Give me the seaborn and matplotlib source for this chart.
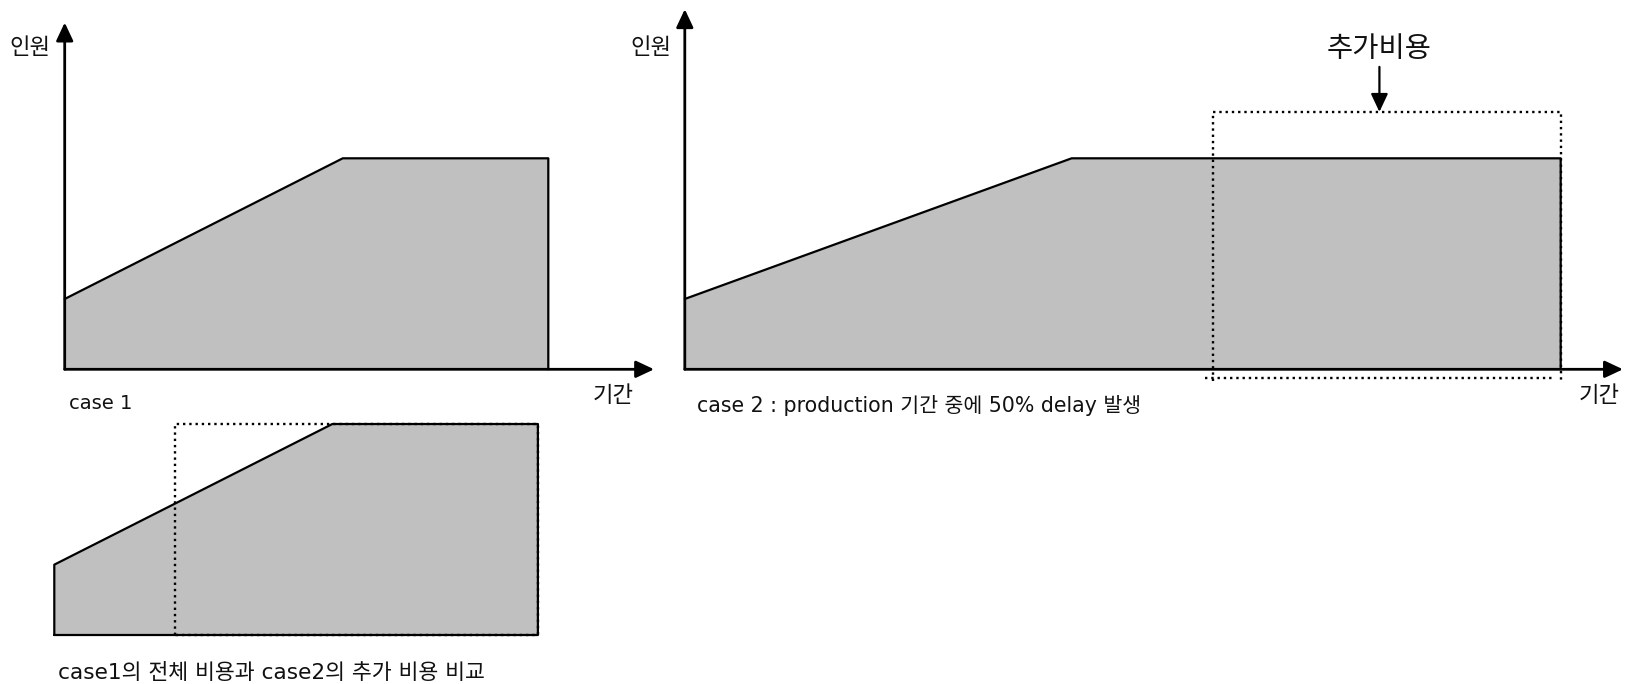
import matplotlib
matplotlib.use("Agg")
import matplotlib.pyplot as plt
import seaborn as sns

sns.set_theme(style="white")
plt.rcParams["font.family"] = ["DejaVu Sans", "Noto Sans CJK KR"]

# Staffing profiles: time (months) vs. headcount
case1_time = [0, 13.8, 24]
case1_staff = [1, 3, 3]
case2_time = [0, 15.9, 36]
case2_staff = [1, 3, 3]
extra_cost_span = [21.7, 36]      # added-cost period in case 2
compare_span = [6, 24]            # case 2 extra cost laid over case 1

y_label = "인원"
x_label = "기간"
case1_title = "case 1"
case2_title = "case 2 : production 기간 중에 50% delay 발생"
compare_title = "case1의 전체 비용과 case2의 추가 비용 비교"
extra_label = "추가비용"

FILL = "#c0c0c0"
W, H = 1631, 684
fig = plt.figure(figsize=(W / 100, H / 100), dpi=100)


def add_axes_px(x0, y0, x1, y1):
    ax = fig.add_axes([x0 / W, 1 - y1 / H, (x1 - x0) / W, (y1 - y0) / H])
    ax.set_axis_off()
    return ax


ARROW = dict(arrowstyle="-|>,head_length=1.0,head_width=0.47",
             mutation_scale=11, color="black", lw=2, shrinkA=0, shrinkB=0)


def draw_axes_arrows(ax, xtip, ytip):
    ax.annotate("", xy=(xtip, 0), xytext=(0, 0), arrowprops=ARROW,
                annotation_clip=False)
    ax.annotate("", xy=(0, ytip), xytext=(0, 0), arrowprops=ARROW,
                annotation_clip=False)


def draw_profile(ax, t, s, closed=False):
    ax.fill_between(t, s, 0, color=FILL, lw=0)
    if closed:
        xs = [t[0]] + list(t) + [t[-1], t[0]]
        ys = [0] + list(s) + [0, 0]
    else:
        xs = list(t) + [t[-1]]
        ys = list(s) + [0]
    sns.lineplot(x=xs, y=ys, sort=False, estimator=None, color="black",
                 lw=1.6, ax=ax, legend=False)


def dotted(ax, xs, ys):
    sns.lineplot(x=xs, y=ys, sort=False, estimator=None, color="black",
                 lw=1.7, linestyle=":", ax=ax, legend=False)


label_kw = dict(fontsize=16, color="#111111")

# ---- case 1 ----
ax1 = add_axes_px(0, 0, 660, 420)
ax1.set_xlim(-64.7 / 20.15, (660 - 64.7) / 20.15)
ax1.set_ylim((369.3 - 420) / 70.33, 369.3 / 70.33)
draw_profile(ax1, case1_time, case1_staff)
draw_axes_arrows(ax1, 29.25, 4.93)
ax1.text(-0.7, 4.58, y_label, ha="right", va="center", **label_kw)
ax1.text(27.2, -0.37, x_label, ha="center", va="center", **label_kw)
ax1.text(0.2, -0.49, case1_title, ha="left", va="center", fontsize=14,
         color="#111111")

# ---- case 2 ----
ax2 = add_axes_px(660, 0, W, 420)
ax2.set_xlim(-24.8 / 24.33, (W - 684.8) / 24.33)
ax2.set_ylim((369.3 - 420) / 70.33, 369.3 / 70.33)
draw_profile(ax2, case2_time, case2_staff)
draw_axes_arrows(ax2, 38.56, 5.12)
x0, x1 = extra_cost_span
dotted(ax2, [x0, x0, x1, x1], [-0.16, 3.66, 3.66, -0.16])
dotted(ax2, [x0 - 0.33, x1 - 0.33], [-0.13, -0.13])
mid = 28.55
ax2.annotate("", xy=(mid, 3.66), xytext=(mid, 4.30),
             arrowprops=dict(ARROW, lw=1.6), annotation_clip=False)
ax2.text(mid, 4.55, extra_label, ha="center", va="center", fontsize=20.5,
         color="#111111")
ax2.text(-0.55, 4.58, y_label, ha="right", va="center", **label_kw)
ax2.text(37.57, -0.37, x_label, ha="center", va="center", **label_kw)
ax2.text(0.5, -0.51, case2_title, ha="left", va="center", fontsize=14.8,
         color="#111111")

# ---- comparison ----
ax3 = add_axes_px(0, 400, 560, H)
ax3.set_xlim(-54.3 / 20.15, (560 - 54.3) / 20.15)
ax3.set_ylim((635 - H) / 70.33, (635 - 400) / 70.33)
draw_profile(ax3, case1_time, case1_staff, closed=True)
c0, c1 = compare_span
top = max(case1_staff)
dotted(ax3, [c0, c0, c1, c1, c0], [0, top, top, 0, 0])
ax3.text(0.18, -0.54, compare_title, ha="left", va="center", fontsize=15.6,
         color="#111111")

fig.savefig("out.png", dpi=100, facecolor="white")
